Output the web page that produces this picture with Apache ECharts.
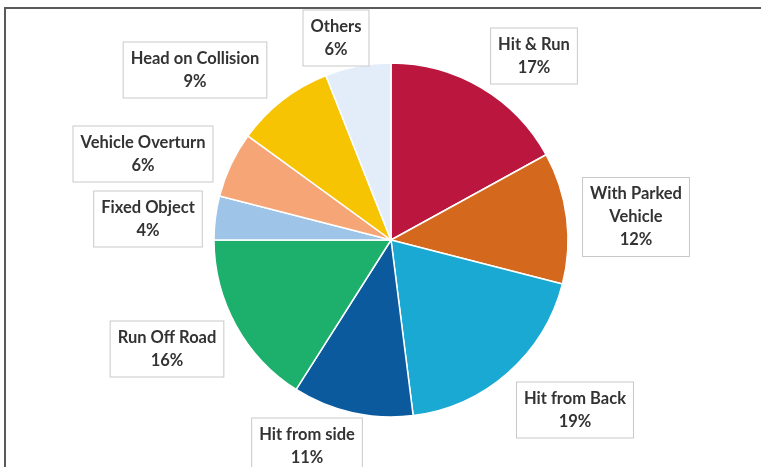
<!DOCTYPE html>
<html><head><meta charset="utf-8">
<script src="https://cdn.jsdelivr.net/npm/echarts@6/dist/echarts.min.js"></script>
<style>html,body{margin:0;padding:0;background:#fff}#c{width:761px;height:467px}</style>
</head><body><div id="c"></div>
<script>
const categories = ["Hit & Run","With Parked\nVehicle","Hit from Back","Hit from side","Run Off Road","Fixed Object","Vehicle Overturn","Head on Collision","Others"];
const values = [17,12,19,11,16,4,6,9,6];
const colors = ["#bb163e","#d4691e","#19a9d2","#0b5a9e","#1cb06c","#9ec4e8","#f6a676","#f7c404","#e3edf9"];
const labelPos = [[534,56],[636,217],[575,410],[307,446],[167,349],[148,219],[143,154],[195,70],[336,38]];

const chart = echarts.init(document.getElementById('c'), null, {renderer:'canvas'});
chart.setOption({
  animation:false,
  graphic:[{type:'rect',shape:{x:5,y:8,width:800,height:500},style:{fill:'none',stroke:'#5a5a5a',lineWidth:2},silent:true}],
  series:[{
    type:'pie',
    center:[391,240],
    radius:177,
    startAngle:90,
    clockwise:true,
    data:categories.map((c,i)=>({name:c,value:values[i],itemStyle:{color:colors[i]}})),
    itemStyle:{borderColor:'#fff',borderWidth:1.5},
    label:{
      show:true,
      formatter:p=>p.name+'\n'+Math.round(p.percent)+'%',
      fontFamily:'Lato',fontWeight:'bold',fontSize:16.5,color:'#333',
      lineHeight:23,align:'center',
      backgroundColor:'#fff',borderColor:'#c9c9c9',borderWidth:1,
      padding:[5,7,4,7]
    },
    labelLine:{show:false},
    labelLayout:function(params){
      const p=labelPos[params.dataIndex];
      return {x:p[0],y:p[1],align:'center',verticalAlign:'middle'};
    }
  }]
});
</script></body></html>
